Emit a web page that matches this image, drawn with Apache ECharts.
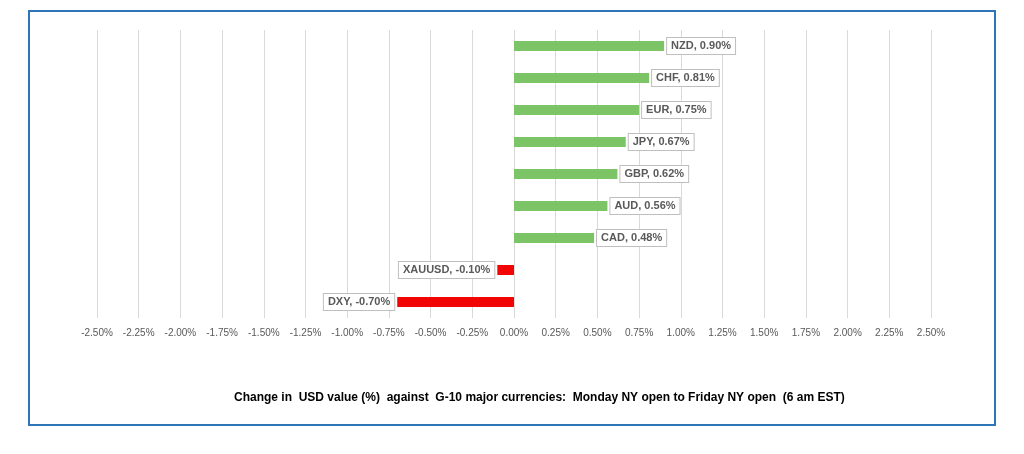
<!DOCTYPE html>
<html><head><meta charset="utf-8">
<script src="https://cdn.jsdelivr.net/npm/echarts@6/dist/echarts.min.js"></script>
<style>html,body{margin:0;padding:0;background:#fff}#c{width:1024px;height:454px}</style>
</head><body><div id="c"></div>
<script>
var categories = ['NZD','CHF','EUR','JPY','GBP','AUD','CAD','XAUUSD','DXY'];
var values = [0.90, 0.81, 0.75, 0.67, 0.62, 0.56, 0.48, -0.10, -0.70];
var titleText = 'Change in  USD value (%)  against  G-10 major currencies:  Monday NY open to Friday NY open  (6 am EST)';

var chart = echarts.init(document.getElementById('c'));
var data = values.map(function(v, i){
  return {
    value: v,
    itemStyle: {color: v >= 0 ? '#7cc466' : '#f20505'},
    label: {position: v >= 0 ? 'right' : 'left'}
  };
});
chart.setOption({
  animation: false,
  graphic: [{type:'rect', shape:{x:29, y:11, width:966, height:414}, style:{fill:'none', stroke:'#2e75b6', lineWidth:2}}],
  title: {text: titleText, left: 229, top: 387,
    textStyle: {fontFamily:'Liberation Sans', fontSize: 12, fontWeight:'bold', color:'#000'}},
  grid: {left: 97, right: 93, top: 30, bottom: 136, containLabel: false},
  xAxis: {type:'value', min:-2.5, max:2.5, interval:0.25,
    axisLine:{show:false}, axisTick:{show:false},
    splitLine:{lineStyle:{color:'#d9d9d9', width:1}},
    axisLabel:{margin:10, color:'#595959', fontSize:10, fontFamily:'Liberation Sans',
      formatter:function(v){return v.toFixed(2)+'%';}}},
  yAxis: {type:'category', data: categories, inverse:true,
    axisLine:{show:false}, axisTick:{show:false}, axisLabel:{show:false}, splitLine:{show:false}},
  series: [{type:'bar', data:data, barWidth:10,
    label:{show:true, distance:3, color:'#595959', fontWeight:'bold', fontSize:11, fontFamily:'Liberation Sans',
      backgroundColor:'#fff', borderColor:'#bfbfbf', borderWidth:1, padding:[3,4,2,4],
      formatter:function(p){return categories[p.dataIndex]+', '+p.value.toFixed(2)+'%';}}}]
});
</script></body></html>
